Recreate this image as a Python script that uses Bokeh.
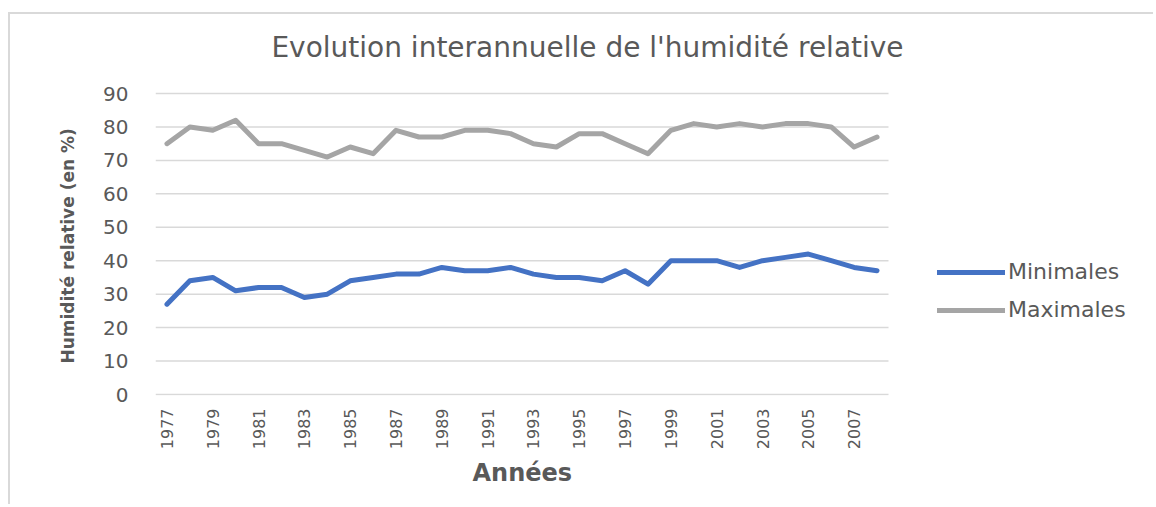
from bokeh.plotting import figure
from bokeh.models import Range1d, FixedTicker, Legend, LegendItem, Label, Title
from bokeh.embed import file_html
from bokeh.resources import INLINE
from math import pi

years = list(range(1977, 2009))
minimales = [27, 34, 35, 31, 32, 32, 29, 30, 34, 35, 36, 36, 38, 37, 37, 38,
             36, 35, 35, 34, 37, 33, 40, 40, 40, 38, 40, 41, 42, 40, 38, 37]
maximales = [75, 80, 79, 82, 75, 75, 73, 71, 74, 72, 79, 77, 77, 79, 79, 78,
             75, 74, 78, 78, 75, 72, 79, 81, 80, 81, 80, 81, 81, 80, 74, 77]
x_ticks = list(range(1977, 2008, 2))
y_ticks = list(range(0, 91, 10))

title_text = "Evolution interannuelle de l'humidité relative"
y_title = "Humidité relative (en %)"
x_title = "Années"

FONT = "DejaVu Sans"
TXT = "#595959"
GRID = "#d9d9d9"

# category band edges of the year axis
x_start = years[0] - 0.5
x_end = years[-1] + 0.5

# canvas geometry (px)
W, H = 1145, 492
LEFT = 145              # left edge of plotted area
PLOT_W = 733            # width of plotted (gridded) area
TOP_90 = 79             # y of the 90 gridline
BOT_0 = 380             # y of the 0 gridline
FRAME_BOTTOM = 381
FRAME_W = W - LEFT      # frame spans to the right edge and to the top (legend + title inside)
ppu = (BOT_0 - TOP_90) / (y_ticks[-1] - y_ticks[0])
x_range_end = x_start + (x_end - x_start) * FRAME_W / PLOT_W
y_range_start = y_ticks[0] - (FRAME_BOTTOM - BOT_0) / ppu
y_range_end = y_ticks[-1] + TOP_90 / ppu

p = figure(width=W, height=H, output_backend="svg", toolbar_location=None,
           x_range=Range1d(x_start, x_range_end), y_range=Range1d(y_range_start, y_range_end),
           min_border_left=LEFT, min_border_right=0, min_border_top=0,
           min_border_bottom=H - FRAME_BOTTOM)
p.styles = {"border-left": "2px solid #d9d9d9", "border-top": "2px solid #d9d9d9",
            "margin-top": "12px", "margin-left": "8px"}
p.outline_line_color = None
p.background_fill_color = "white"
p.border_fill_color = "white"

p.xgrid.grid_line_color = None
p.ygrid.grid_line_color = None

# horizontal gridlines limited to the plotted area
p.segment(x0=[x_start] * len(y_ticks), y0=y_ticks, x1=[x_end] * len(y_ticks), y1=y_ticks,
          line_color=GRID, line_width=1.5)

p.yaxis.ticker = FixedTicker(ticks=y_ticks)
p.yaxis.axis_line_color = None
p.yaxis.major_tick_line_color = None
p.yaxis.minor_tick_line_color = None
p.yaxis.major_label_text_font = FONT
p.yaxis.major_label_text_font_size = "20px"
p.yaxis.major_label_text_color = TXT
p.yaxis.major_label_standoff = 21

p.xaxis.ticker = FixedTicker(ticks=x_ticks)
p.xaxis.axis_line_color = None
p.xaxis.major_tick_line_color = None
p.xaxis.minor_tick_line_color = None
p.xaxis.major_label_orientation = pi / 2
p.xaxis.major_label_text_font = FONT
p.xaxis.major_label_text_font_size = "16px"
p.xaxis.major_label_text_color = TXT
p.xaxis.major_label_standoff = 7

# axis titles as side titles so they can be placed along the plotted area
y_lab = Title(text=y_title, align="left", offset=32, standoff=46, vertical_align="bottom",
              text_font=FONT, text_font_size="17px", text_font_style="bold", text_color=TXT)
p.add_layout(y_lab, "left")
x_lab = Title(text=x_title, align="left", offset=317, standoff=12, vertical_align="top",
              text_font=FONT, text_font_size="24px", text_font_style="bold", text_color=TXT)
p.add_layout(x_lab, "below")

r_min = p.line(years, minimales, line_color="#4472C4", line_width=5, line_join="round", line_cap="round")
r_max = p.line(years, maximales, line_color="#A5A5A5", line_width=5, line_join="round", line_cap="round")

legend = Legend(items=[LegendItem(label="Minimales", renderers=[r_min]),
                       LegendItem(label="Maximales", renderers=[r_max])],
                location=(782, 73), orientation="vertical",
                glyph_width=68, glyph_height=20, spacing=13, label_standoff=3,
                padding=0, margin=0, border_line_color=None, background_fill_alpha=0,
                label_text_font=FONT, label_text_font_size="22px", label_text_color=TXT)
p.add_layout(legend, "center")

title = Label(x=432, y=FRAME_BOTTOM - 33, x_units="screen", y_units="screen", text=title_text,
              text_align="center", text_baseline="middle", text_font=FONT,
              text_font_size="28px", text_color=TXT)
p.add_layout(title)

open("out.html", "w").write(file_html(p, INLINE))
